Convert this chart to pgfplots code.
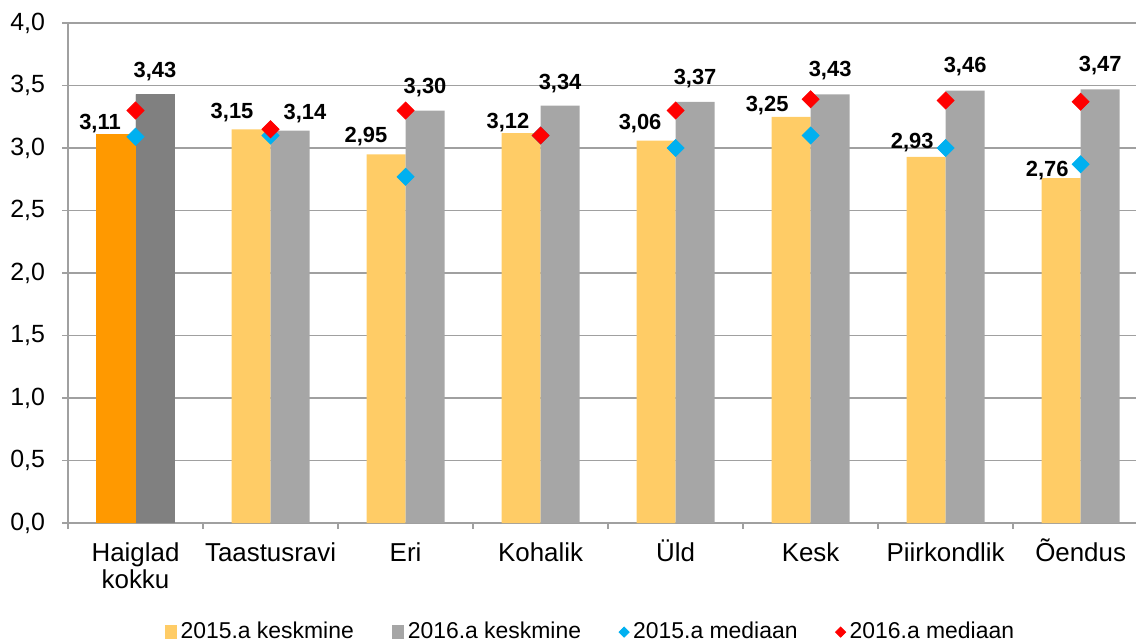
\documentclass[border=0pt]{standalone}
\usepackage{fontspec}
\setmainfont{Liberation Sans}
\usepackage{pgfplots}
\usepackage{pgfplotstable}
\pgfplotsset{compat=1.18}

\definecolor{cA}{HTML}{FFCC66}
\definecolor{cB}{HTML}{A6A6A6}
\definecolor{cHA}{HTML}{FF9900}
\definecolor{cHB}{HTML}{808080}
\definecolor{cblue}{HTML}{00B0F0}
\definecolor{cred}{HTML}{FF0000}
\definecolor{gridc}{HTML}{A0A0A0}

% keskmine 2015: value, label x position, label lift (bp)
\pgfplotstableread{
x  y     lx      sy
0  3.11  -0.263  0.5
1  3.15  0.715   3.5
2  2.95  1.707   4
3  3.12  2.759   0.5
4  3.06  3.737   3.5
5  3.25  4.678   0.5
6  2.93  5.752   2
7  2.76  6.752   -1
}\tabA
% keskmine 2016
\pgfplotstableread{
x  y     lx      sy
0  3.43  0.1445  6.5
1  3.14  1.2556  3.5
2  3.30  2.1445  6.5
3  3.34  3.1445  6
4  3.37  4.1445  6.5
5  3.43  5.1445  7
6  3.46  6.1445  7
7  3.47  7.1445  7
}\tabB
% mediaan
\pgfplotstableread{
x  m15   m16
0  3.09  3.30
1  3.10  3.15
2  2.77  3.30
3  3.10  3.10
4  3.00  3.30
5  3.10  3.39
6  3.00  3.38
7  2.87  3.37
}\tabM

\newcommand{\ph}{\vphantom{Õ}}

\begin{document}
\begin{tikzpicture}
\begin{axis}[
  scale only axis, x=67.5bp, y=62.5bp,
  xmin=-0.5, xmax=7.41, ymin=0, ymax=4,
  axis x line*=bottom, axis y line*=left,
  axis line style={draw=gridc, line width=0.75bp},
  ymajorgrids, grid style={gridc, line width=0.75bp},
  ytick={0,0.5,...,4},
  yticklabel style={font=\fontsize{12.5}{14}\selectfont, xshift=-5bp,
    /pgf/number format/.cd, use comma, fixed, fixed zerofill, precision=1, assume math mode=true},
  xtick={-0.5,0.5,...,6.5},
  xticklabels={{\ph Haiglad\\kokku},\ph Taastusravi,\ph Eri,\ph Kohalik,\ph Üld,\ph Kesk,\ph Piirkondlik,\ph Õendus},
  xticklabel style={font=\fontsize{13}{13.5}\selectfont, xshift=33.75bp, yshift=-1.2bp, align=center},
  tick label style={text=black},
  tick align=outside, major tick length=3bp,
  tick style={draw=gridc, line width=0.75bp},
  legend style={at={(0.49,0)}, anchor=center, yshift=-54.5bp, draw=none, fill=none,
    font=\fontsize{11.5}{13}\selectfont, legend columns=4,
    /tikz/every even column/.append style={column sep=17bp}},
  legend cell align=left,
  bars/.style={ybar, bar width=0.289, draw=none,
    legend image code/.code={\fill[##1] (0bp,-3.5bp) rectangle (6bp,3.5bp);}},
  lbls/.style={only marks, mark=none, forget plot, point meta=y,
    nodes near coords={\pgfmathprintnumber[fixed,fixed zerofill,precision=2,use comma,assume math mode=true]{\pgfplotspointmeta}},
    visualization depends on={\thisrow{sy}\as\laby},
    every node near coord/.append style={font=\fontsize{11}{13}\selectfont\bfseries, text=black,
      anchor=south, inner sep=0pt, yshift=\laby bp}},
  meds/.style={only marks, mark=square*, mark size=3bp,
    legend image code/.code={\draw[##1, mark size=1.8bp] plot coordinates {(3bp,0bp)};}},
]
\addplot[bars, bar shift=-0.1445, fill=cA] table[x=x, y=y]{\tabA};
\addlegendentry{2015.a keskmine}
\addplot[bars, bar shift=0.1445, fill=cB] table[x=x, y=y]{\tabB};
\addlegendentry{2016.a keskmine}
% Haiglad kokku: darker bars on top
\addplot[ybar, bar width=0.289, bar shift=-0.1445, fill=cHA, draw=none, forget plot] coordinates {(0,3.11)};
\addplot[ybar, bar width=0.289, bar shift=0.1445, fill=cHB, draw=none, forget plot] coordinates {(0,3.43)};
% value labels
\addplot[lbls] table[x=lx, y=y]{\tabA};
\addplot[lbls] table[x=lx, y=y]{\tabB};
\addplot[meds, color=cblue, mark options={rotate=45, draw=none, fill=cblue}] table[x=x, y=m15]{\tabM};
\addlegendentry{2015.a mediaan}
\addplot[meds, color=cred, mark options={rotate=45, draw=none, fill=cred}] table[x=x, y=m16]{\tabM};
\addlegendentry{2016.a mediaan}
\end{axis}
\pgfresetboundingbox
\path (current axis.south west) ++(-34bp,-60bp) rectangle ([yshift=11.5bp]current axis.north east);
\end{tikzpicture}
\end{document}
